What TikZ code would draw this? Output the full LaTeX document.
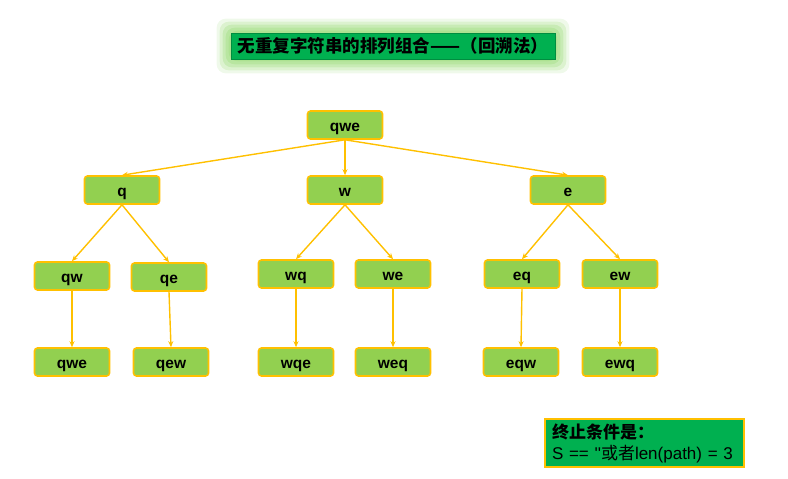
\documentclass[tikz,border=0pt]{standalone}
\usepackage{fontspec}
\setmainfont{Liberation Sans}
\newfontfamily\plain{Liberation Sans}
\newfontfamily\cjk{Noto Sans CJK SC}
\usetikzlibrary{arrows.meta,backgrounds}
\definecolor{leaf}{HTML}{92D050}
\definecolor{rim}{HTML}{FFC000}
\definecolor{deep}{HTML}{00B050}
\definecolor{glow}{HTML}{A8E08A}
\tikzset{
  box/.style={draw=rim, fill=leaf, line width=1.6pt, rounded corners=3pt,
    minimum width=75pt, minimum height=28pt, inner sep=0pt,
    text height=14pt, text depth=1pt,
    font=\fontsize{15.5}{17}\selectfont\bfseries},
  edge/.style={draw=rim, line width=1.4pt, -{Stealth[length=6pt,width=5pt]}}
}
\begin{document}
\begin{tikzpicture}[x=1pt,y=-1pt]
  \useasboundingbox (0,0) rectangle (788,479);
  % title
  \node[fill=deep, draw=deep!80!black, line width=0.6pt, minimum width=324pt, minimum height=26pt,
    inner sep=0pt, font=\cjk\bfseries\fontsize{17.5}{19}\selectfont] (title) at (393,46)
    {无重复字符串的排列组合——（回溯法）};
  \begin{scope}[on background layer]
    \foreach \g/\o in {14/0.18,11/0.28,8/0.38,5/0.5,2/0.65} {
      \fill[glow, opacity=\o, rounded corners=9pt]
        ([xshift=-\g pt,yshift=-\g pt]title.south west) rectangle ([xshift=\g pt,yshift=\g pt]title.north east);
    }
  \end{scope}
  % tree
  \node[box] (root) at (345,125) {qwe};
  \node[box] (q) at (122,190) {q};
  \node[box] (w) at (345,190) {w};
  \node[box] (e) at (568,190) {e};
  \node[box] (qw) at (72,276) {qw};
  \node[box] (qe) at (169,277) {qe};
  \node[box] (wq) at (296,274) {wq};
  \node[box] (we) at (393,274) {we};
  \node[box] (eq) at (522,274) {eq};
  \node[box] (ew) at (620,274) {ew};
  \node[box] (qwe) at (72,362) {qwe};
  \node[box] (qew) at (171,362) {qew};
  \node[box] (wqe) at (296,362) {wqe};
  \node[box] (weq) at (393,362) {weq};
  \node[box] (eqw) at (521,362) {eqw};
  \node[box] (ewq) at (620,362) {ewq};
  \begin{scope}[edge]
    \draw (root.south) -- (q.north);
    \draw (root.south) -- (w.north);
    \draw (root.south) -- (e.north);
    \draw (q.south) -- (qw.north);
    \draw (q.south) -- (qe.north);
    \draw (w.south) -- (wq.north);
    \draw (w.south) -- (we.north);
    \draw (e.south) -- (eq.north);
    \draw (e.south) -- (ew.north);
    \draw (qw.south) -- (qwe.north);
    \draw (qe.south) -- (qew.north);
    \draw (wq.south) -- (wqe.north);
    \draw (we.south) -- (weq.north);
    \draw (eq.south) -- (eqw.north);
    \draw (ew.south) -- (ewq.north);
  \end{scope}
  % stop condition
  \node[fill=deep, draw=rim, line width=1.2pt, minimum width=199pt, minimum height=48pt,
    text width=185pt, align=left, inner sep=0pt, font=\fontsize{17}{21}\selectfont] (stop) at (644.5,443)
    {{\cjk\bfseries 终止条件是：}\\{\plain S == ''}{\cjk 或者}{\plain len(path) = 3}};
\end{tikzpicture}
\end{document}
